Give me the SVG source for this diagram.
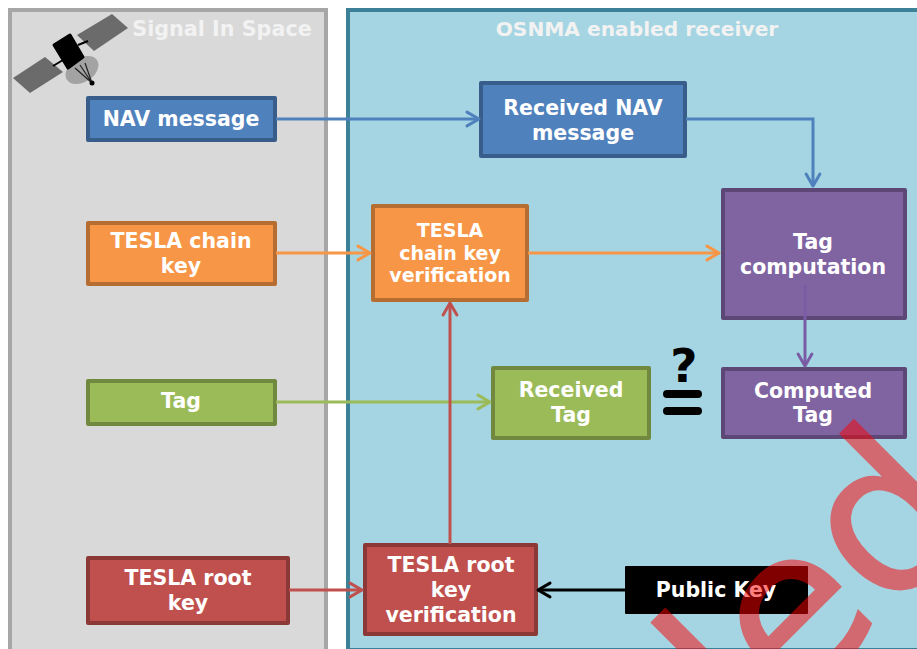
<svg xmlns="http://www.w3.org/2000/svg" width="917" height="649" viewBox="0 0 917 649">
<style>
text{font-family:"DejaVu Sans",Verdana,sans-serif;font-weight:700;fill:#fff;text-anchor:middle;font-size:20.5px}
.title{fill:#f2f2f2}
.box{stroke-width:4;stroke-linejoin:round}
.c{fill:none;stroke-width:3}
.a{fill:none;stroke-width:1;stroke-linecap:round;stroke-linejoin:round}
.blue{fill:#4f81bd;stroke:#385d8a}.orange{fill:#f79646;stroke:#b66d31}.green{fill:#9bbb59;stroke:#71893f}.red{fill:#c0504d;stroke:#8c3836}.purple{fill:#8064a2;stroke:#5c4776}
</style>
<defs>
<marker id="mb" markerWidth="9" markerHeight="10" refX="7.5" refY="5" orient="auto" markerUnits="strokeWidth" viewBox="0 0 9 10"><path class="a" d="M3.500 2.700L7.500 5L3.500 7.300" stroke="#4f81bd"/></marker>
<marker id="mo" markerWidth="9" markerHeight="10" refX="7.5" refY="5" orient="auto" markerUnits="strokeWidth" viewBox="0 0 9 10"><path class="a" d="M3.500 2.700L7.500 5L3.500 7.300" stroke="#f79646"/></marker>
<marker id="mg" markerWidth="9" markerHeight="10" refX="7.5" refY="5" orient="auto" markerUnits="strokeWidth" viewBox="0 0 9 10"><path class="a" d="M3.500 2.700L7.500 5L3.500 7.300" stroke="#9bbb59"/></marker>
<marker id="mr" markerWidth="9" markerHeight="10" refX="7.5" refY="5" orient="auto" markerUnits="strokeWidth" viewBox="0 0 9 10"><path class="a" d="M3.500 2.700L7.500 5L3.500 7.300" stroke="#c0504d"/></marker>
<marker id="mp" markerWidth="9" markerHeight="10" refX="7.5" refY="5" orient="auto" markerUnits="strokeWidth" viewBox="0 0 9 10"><path class="a" d="M3.500 2.700L7.500 5L3.500 7.300" stroke="#7a5ca5"/></marker>
<marker id="mk" markerWidth="9" markerHeight="10" refX="7.5" refY="5" orient="auto" markerUnits="strokeWidth" viewBox="0 0 9 10"><path class="a" d="M3.500 2.700L7.500 5L3.500 7.300" stroke="#000"/></marker>
</defs>
<rect width="917" height="649" fill="#fff"/>
<g id="panel-space"><rect x="10" y="10" width="316" height="650" fill="#d9d9d9" stroke="#a6a6a6" stroke-width="4"/>
<text class="title" x="222" y="36" style="font-size:20.7px">Signal In Space</text></g>
<g id="panel-receiver"><rect x="348" y="10" width="600" height="640" fill="#a5d5e2" stroke="#3c8198" stroke-width="4"/>
<text class="title" x="637" y="36" style="font-size:20.2px">OSNMA enabled receiver</text></g>
<g id="satellite">
<path d="M13 78L45 57L63 72L30 93Z" fill="#6b6b6b"/>
<path d="M77 35L112 14L128 28L94 51Z" fill="#6b6b6b"/>
<path d="M53 66L63 60M78 45L88 41" stroke="#000" stroke-width="2"/>
<ellipse cx="82" cy="70" rx="18" ry="12" transform="rotate(-33 82 70)" fill="#a3a3a3"/>
<path d="M54 45L70 35L83 57L68 68Z" fill="#000" stroke="#000" stroke-width="3" stroke-linejoin="round"/>
<path d="M75 68L92 83M80 65L92 83M85 63L92 83" stroke="#222" stroke-width="1.2" fill="none"/>
<circle cx="92" cy="83" r="2.500" fill="#000"/>
</g>
<g id="nav"><rect class="box blue" x="88" y="98" width="187" height="42"/><text x="181" y="126">NAV message</text></g>
<g id="rx-nav"><rect class="box blue" x="481" y="83" width="204" height="73"/><text x="583" y="115">Received NAV</text><text x="583" y="140">message</text></g>
<g id="chain"><rect class="box orange" x="88" y="223" width="187" height="61"/><text x="181" y="248">TESLA chain</text><text x="181" y="273">key</text></g>
<g id="chain-ver"><rect class="box orange" x="373" y="206" width="154" height="94"/><text x="450" y="237" style="font-size:19px">TESLA</text><text x="450" y="260" style="font-size:19px">chain key</text><text x="450" y="282" style="font-size:19px">verification</text></g>
<g id="tag-comp"><rect class="box purple" x="723" y="190" width="182" height="128"/><text x="813" y="249">Tag</text><text x="813" y="274">computation</text></g>
<g id="tag"><rect class="box green" x="88" y="381" width="187" height="43"/><text x="181" y="408">Tag</text></g>
<g id="rx-tag"><rect class="box green" x="493" y="368" width="156" height="70"/><text x="571" y="397">Received</text><text x="571" y="422">Tag</text></g>
<g id="equal-sign"><text x="684" y="382" style="fill:#000;font-size:47px">?</text>
<path d="M667 394H698M667 411H698" stroke="#000" stroke-width="8" stroke-linecap="round"/></g>
<g id="computed"><rect class="box purple" x="723" y="369" width="182" height="68"/><text x="813" y="398">Computed</text><text x="813" y="422">Tag</text></g>
<g id="root"><rect class="box red" x="88" y="558" width="200" height="65"/><text x="188" y="585">TESLA root</text><text x="188" y="610">key</text></g>
<g id="root-ver"><rect class="box red" x="365" y="545" width="171" height="89"/><text x="451" y="572">TESLA root</text><text x="451" y="597">key</text><text x="451" y="622">verification</text></g>
<g id="pubkey"><rect x="625" y="566" width="183" height="48" rx="1" fill="#000"/><text x="716" y="597">Public Key</text></g>
<g id="connectors">
<path class="c" stroke="#4f81bd" d="M276 119H479" marker-end="url(#mb)"/>
<path class="c" stroke="#4f81bd" d="M686 119H813V186" marker-end="url(#mb)"/>
<path class="c" stroke="#f79646" d="M276 253H370" marker-end="url(#mo)"/>
<path class="c" stroke="#f79646" d="M528 253H719" marker-end="url(#mo)"/>
<path class="c" stroke="#9bbb59" d="M276 402H490" marker-end="url(#mg)"/>
<path class="c" stroke="#c0504d" d="M289 590H362" marker-end="url(#mr)"/>
<path class="c" stroke="#c0504d" d="M450 544V303" marker-end="url(#mr)"/>
<path class="c" stroke="#7a5ca5" d="M805 285V366" marker-end="url(#mp)"/>
<path class="c" stroke="#000" d="M625 590H538" marker-end="url(#mk)"/>
</g>
<text id="watermark" transform="translate(752 751) rotate(-45)" x="0" y="0" style="font-family:'DejaVu Sans',Verdana,sans-serif;font-weight:400;font-size:213px;fill:#f00;stroke:#f00;stroke-width:2;opacity:.5;text-anchor:start">led</text>
</svg>
